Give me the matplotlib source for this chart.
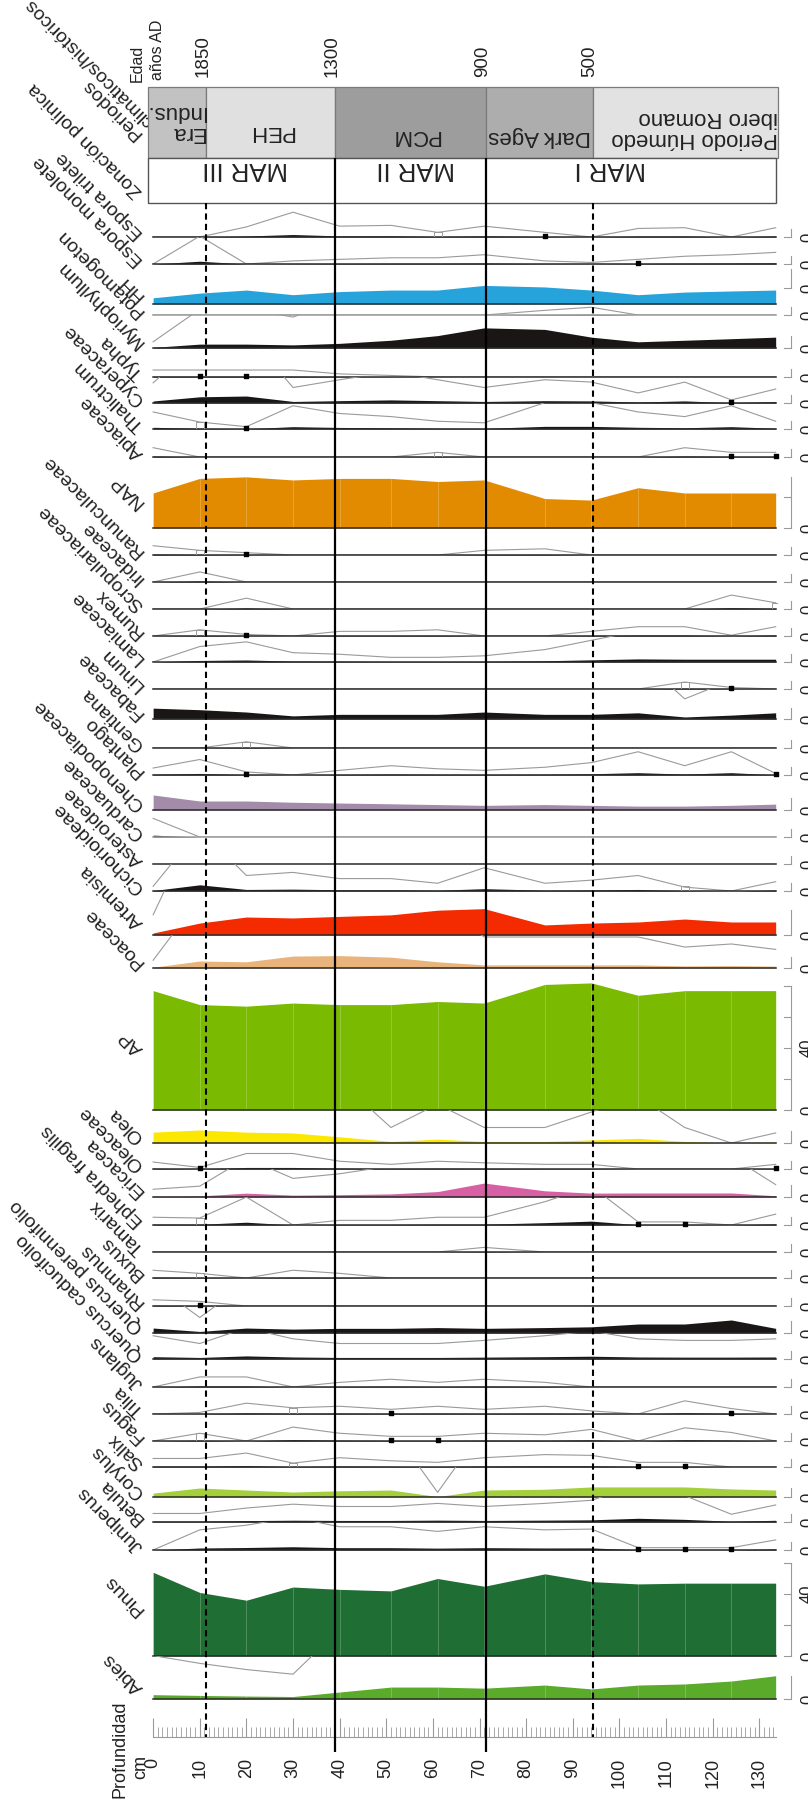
import matplotlib.pyplot as plt
import numpy as np
from matplotlib.patches import Rectangle

plt.rcParams['font.family'] = ['Liberation Sans', 'DejaVu Sans']

W, H = 808, 1801
SCALE = 1.55            # pixels per percent in every curve
X0, X1 = 148, 778       # left / right pixel edge of the strip
XLIM = (-1.1, 134.0)    # depth (cm) shown across the strip
DMAX = 133.5

# sample depths (cm)
depths = [0, 10, 20, 30, 40, 51, 61, 71, 84, 94, 104, 114, 124, 133.5]

# percentages per taxon, one value per sample depth
espora_trilete = [0, 0, 0.65, 1.6, 0.7, 0.75, 0.3, 0.7, 0.3, 0, 0.55, 0.6, 0, 0.6]
espora_monolete = [0, 1.8, 0, 0.2, 0.3, 0.4, 0.4, 0.6, 0.2, 0.1, 0.3, 0.5, 0.6, 0.75]
hh = [4, 7, 9, 6, 8, 9, 9, 12, 11, 9, 6, 7.7, 8.4, 9]
potamogeton = [0, 0, 0, 0, 0, 0, 0, 0, 0.3, 0.5, 0, 0, 0, 0]
myriophyllum = [0.4, 2.5, 2.5, 2, 3, 5, 8, 13, 12, 7, 4, 5, 6, 7]
typha = [0.45, 0.45, 0.45, 0.45, 0.2, 0.1, 0, 0, 0, 0, 0, 0, 0, 0]
cyperaceae = [1.3, 4, 4.5, 1, 1.5, 2, 1.5, 1, 1.5, 1.35, 0.65, 1.35, 0.2, 0.9]
thalictrum = [1.1, 0.45, 0.15, 1.5, 1.0, 0.8, 0.5, 0.4, 1.7, 1.7, 1.1, 0.8, 1.5, 0.5]
apiaceae = [0.6, 0, 0, 0, 0, 0, 0.3, 0, 0, 0, 0, 0.6, 0.3, 0.3]
nap = [22.6, 32, 33, 31, 32, 32, 30, 31, 19, 18, 26, 22.6, 22.6, 22.6]
ranunculaceae = [0.6, 0.3, 0.15, 0, 0, 0, 0, 0.3, 0.4, 0, 0, 0, 0, 0]
iridaceae = [0, 0.65, 0, 0, 0, 0, 0, 0, 0, 0, 0, 0, 0, 0]
scropulariaceae = [0, 0, 0.7, 0, 0, 0, 0, 0, 0, 0, 0, 0, 0.9, 0.4]
rumex = [0, 0.4, 0.1, 0, 0.3, 0.3, 0.4, 0, 0, 0.3, 0.6, 0.6, 0.05, 0.6]
lamiaceae = [0, 1, 1.3, 0.6, 0.5, 0.3, 0.3, 0.4, 0.8, 1.4, 2.0, 1.8, 1.8, 1.8]
linum = [0, 0, 0, 0, 0, 0, 0, 0, 0, 0, 0, 0.45, 0.1, 0]
fabaceae = [7, 6, 4.5, 2, 3, 3, 3, 4.5, 3, 3, 4, 1.3, 2.5, 4]
gentiana = [0, 0, 0.4, 0, 0, 0, 0, 0, 0, 0, 0, 0, 0, 0]
plantago = [0.45, 1, 0.2, 0, 0.3, 0.6, 0.4, 0.3, 0.5, 0.8, 1.5, 0.6, 1.5, 0.1]
chenopodiaceae = [9.7, 5.8, 5.8, 5, 4.5, 4, 3.5, 3, 3.5, 3, 2.5, 2.5, 3, 3.8]
carduaceae = [1.2, 0, 0, 0, 0, 0, 0, 0, 0, 0, 0, 0, 0, 0]
asteroideae = [0, 0, 0, 0, 0, 0, 0, 0, 0, 0, 0, 0, 0, 0]
cichorioideae = [0.3, 4, 1, 1.2, 0.8, 0.8, 0.5, 1.5, 0.5, 0.7, 1.0, 0.25, 0, 0.6]
artemisia = [1.3, 7.7, 11.6, 11, 12, 13, 16, 17, 6.5, 7.7, 8.4, 10.3, 8.4, 8.4]
poaceae = [0.5, 4.5, 4, 7.7, 8, 7, 4, 2, 2, 2, 2, 1.35, 1.55, 1.2]
ap = [77, 68, 67, 69, 68, 68, 70, 69, 81, 82, 74, 77, 77, 77]
olea = [7, 8.4, 7, 6.5, 4, 1, 2.5, 1, 1, 2, 3, 1, 0, 0.65]
oleaceae = [0.45, 0.1, 1, 1, 0.5, 0.3, 0.5, 0.4, 0.3, 0.3, 0, 0, 0, 0.3]
ericacea = [0.5, 0.7, 2.5, 1.2, 1.5, 2, 3.5, 9, 4, 2.5, 2.6, 2.6, 2.6, 0.8]
ephedra = [0.5, 0.45, 1.8, 0, 0.3, 0.3, 0.5, 0.5, 1.5, 2.5, 0.2, 0.2, 0, 0.7]
tamarix = [0, 0, 0, 0, 0, 0, 0, 0.3, 0, 0, 0, 0, 0, 0]
buxus = [0.5, 0.3, 0, 0.5, 0.3, 0, 0, 0, 0, 0, 0, 0, 0, 0]
rhamnus = [0.4, 0.3, 0, 0, 0, 0, 0, 0, 0, 0, 0, 0, 0, 0]
quercus_per = [3.2, 1, 3.2, 2.5, 3, 3, 3.5, 3, 3.5, 4, 5.8, 5.8, 8.4, 3]
quercus_cad = [1.5, 1, 2, 1.3, 1, 1, 1, 1.2, 1.5, 1.8, 1.3, 1.2, 1.2, 1.3]
juglans = [0, 0.65, 0.65, 0, 0.3, 0.5, 0.3, 0.5, 0.3, 0, 0, 0, 0, 0]
tilia = [0, 0.1, 0.7, 0.4, 0.5, 0.3, 0.5, 0.3, 0.5, 0.2, 0, 0.85, 0.35, 0]
fagus = [0, 0.5, 0, 0.9, 0.5, 0.3, 0.3, 0.5, 0.4, 0.75, 0, 0.85, 0.55, 0]
salix = [0.55, 0.55, 0.9, 0.25, 0.6, 0.4, 0.3, 0.6, 0.8, 0.75, 0.3, 0.3, 0, 0]
corylus = [2.5, 5.8, 4.5, 3.2, 4, 4.5, 0.3, 4.5, 5, 6.5, 6.5, 6.5, 5.2, 4.5]
betula = [0.55, 0.55, 0.9, 1.15, 1, 1, 1.2, 1, 1.2, 1.4, 2.4, 1.7, 0.5, 1.1]
juniperus = [0, 1.3, 1.6, 2.1, 1.5, 1.5, 1.2, 1.5, 1.3, 1.35, 0.15, 0.15, 0.15, 0.65]
pinus = [54, 41, 36, 44.5, 43, 42, 50, 45, 53, 48, 46.5, 47, 47, 47]
abies = [2.8, 2.3, 1.9, 1.6, 4.5, 7.7, 7.7, 7, 9, 6.5, 9, 9.7, 11.6, 15]

names = ['Espora trilete', 'Espora monolete', 'HH', 'Potamogeton', 'Myriophyllum',
         'Typha', 'Cyperaceae', 'Thalictrum', 'Apiaceae', 'NAP', 'Ranunculaceae',
         'Iridaceae', 'Scropulariaceae', 'Rumex', 'Lamiaceae', 'Linum', 'Fabaceae',
         'Gentiana', 'Plantago', 'Chenopodiaceae', 'Carduaceae', 'Asteroideae',
         'Cichorioideae', 'Artemisia', 'Poaceae', 'AP', 'Olea', 'Oleaceae', 'Ericacea',
         'Ephedra fragilis', 'Tamarix', 'Buxus', 'Rhamnus', 'Quercus perennifolio',
         'Quercus caducifolio', 'Juglans', 'Tilia', 'Fagus', 'Salix', 'Corylus',
         'Betula', 'Juniperus', 'Pinus', 'Abies']
series = [espora_trilete, espora_monolete, hh, potamogeton, myriophyllum, typha,
          cyperaceae, thalictrum, apiaceae, nap, ranunculaceae, iridaceae,
          scropulariaceae, rumex, lamiaceae, linum, fabaceae, gentiana, plantago,
          chenopodiaceae, carduaceae, asteroideae, cichorioideae, artemisia, poaceae,
          ap, olea, oleaceae, ericacea, ephedra, tamarix, buxus, rhamnus, quercus_per,
          quercus_cad, juglans, tilia, fagus, salix, corylus, betula, juniperus,
          pinus, abies]

# pixel row of each zero line
baselines = [237, 264, 304, 315, 348, 377, 403, 429, 457, 528, 555, 582, 609, 636,
             662, 689, 719, 748, 775, 810, 837, 864, 891, 935, 968, 1110, 1143, 1169,
             1197, 1225, 1252, 1278, 1306, 1333, 1359, 1387, 1414, 1441, 1467, 1497,
             1522, 1550, 1656, 1699]

fill_colors = {'HH': '#27a3dc', 'NAP': '#e38b00', 'Chenopodiaceae': '#a28ca9',
               'Artemisia': '#f42a00', 'Poaceae': '#e8b47c', 'AP': '#7aba00',
               'Olea': '#fbe700', 'Ericacea': '#d660a3', 'Corylus': '#a4d03b',
               'Pinus': '#1f6e33', 'Abies': '#5aab2a'}
scale_max = {'HH': 12, 'Myriophyllum': 8, 'NAP': 33, 'Fabaceae': 7,
             'Chenopodiaceae': 8, 'Artemisia': 16, 'Poaceae': 7, 'AP': 80, 'Olea': 8,
             'Ericacea': 8, 'Quercus perennifolio': 8, 'Corylus': 6, 'Pinus': 60,
             'Abies': 15}
# the HH scale sits a little above its curve
scale_shift = {'HH': 16}
no_exag = ['AP', 'NAP', 'Pinus']

# presence marks (depth of sample)
dots = {'Espora trilete': [84], 'Espora monolete': [104], 'Typha': [10, 20],
        'Thalictrum': [20], 'Apiaceae': [124, 133.5], 'Ranunculaceae': [20],
        'Rumex': [20], 'Linum': [124], 'Plantago': [20, 133.5], 'Cyperaceae': [124],
        'Oleaceae': [10, 133.5], 'Ephedra fragilis': [104, 114], 'Rhamnus': [10],
        'Tilia': [124, 51], 'Salix': [104, 114], 'Juniperus': [104, 114, 124],
        'Fagus': [51, 61]}
squares = {'Espora trilete': [61], 'Thalictrum': [10], 'Ranunculaceae': [10],
           'Rumex': [10], 'Gentiana': [20], 'Linum': [114], 'Cichorioideae': [114],
           'Buxus': [10], 'Fagus': [10], 'Tilia': [30], 'Salix': [30],
           'Scropulariaceae': [133.5], 'Ephedra fragilis': [10], 'Apiaceae': [61]}

# zone / period boundaries (cm) and their ages
d1850, d1300, d900, d500 = 11.4, 39.0, 71.3, 94.3
ages = ['1850', '1300', '900', '500']
periods = ['Era\nIndus.', 'PEH', 'PCM', 'Dark Ages', 'Periodo Húmedo\nibero Romano']
period_edges = [XLIM[0], d1850, d1300, d900, d500, XLIM[1]]
period_colors = ['#c2c2c2', '#e0e0e0', '#9d9d9d', '#adadad', '#e2e2e2']
zones = ['MAR III', 'MAR II', 'MAR I']
zone_edges = [XLIM[0], d1300, d900, DMAX]

GREY = '#9a9a9a'
INK = '#222222'

fig = plt.figure(figsize=(W / 100, H / 100), dpi=100)


def px_axes(x0, top, x1, bottom):
    return fig.add_axes([x0 / W, 1 - bottom / H, (x1 - x0) / W, (bottom - top) / H])


# full-figure pixel axes for free text
pix = px_axes(0, 0, W, H)
pix.set_xlim(0, W)
pix.set_ylim(H, 0)
pix.axis('off')

xr = np.array(depths)
for i, (name, vals, base) in enumerate(zip(names, series, baselines)):
    top = baselines[i - 1] if i else 205
    ax = px_axes(X0, top, X1, base)
    ax.set_xlim(*XLIM)
    ax.set_ylim(0, (base - top) / SCALE)
    ax.axis('off')
    v = np.array(vals, dtype=float)
    col = fill_colors.get(name, '#1a1616')
    if name not in no_exag:
        ax.plot(xr, v * 10, color=GREY, lw=0.8, zorder=2)
    ax.fill_between(xr, 0, v, color=col, lw=0, clip_on=False, zorder=3)
    if name in ('AP', 'NAP', 'Pinus', 'Abies'):
        ax.vlines(xr[1:-1], 0, v[1:-1], color='white', lw=0.6, alpha=0.25, zorder=3)
    base_col = '#9a9a9a' if name in ('Potamogeton', 'Carduaceae') else '#2a2a2a'
    ax.plot([0, DMAX], [0, 0], color=base_col, lw=1.1, clip_on=False, zorder=4)
    for d in squares.get(name, []):
        h = max(v[depths.index(d)] * 10, 4.5 / SCALE)
        ax.bar(d, h, width=1.7, fill=False, edgecolor=GREY, lw=0.7, zorder=4)
    for d in dots.get(name, []):
        ax.scatter([d], [0.9], marker='s', s=5, color='black', zorder=5, clip_on=False)

    # scale bar on the right
    smax = scale_max.get(name, 5)
    s0 = scale_shift.get(name, 0) / SCALE
    ax.plot([136.8, 136.8], [s0, s0 + smax], color=GREY, lw=0.8, clip_on=False)
    for t in range(0, int(smax) + 1, 20):
        ax.plot([135.2, 136.8], [s0 + t, s0 + t], color=GREY, lw=0.8, clip_on=False)
    zero_y = base - scale_shift.get(name, 0)
    pix.text(800, zero_y, '0', rotation=90, ha='left', va='center', fontsize=12,
             color=INK)
    if name in ('AP', 'Pinus'):
        pix.text(800, base - 40 * SCALE, '40', rotation=90, ha='left', va='center',
                 fontsize=12, color=INK)

    # taxon name
    ly = base - smax * SCALE / 2 + 3
    pix.text(141, ly, name, rotation=135, rotation_mode='anchor', ha='left',
             va='center', fontsize=14, color=INK)

# header labels for the two boxes
pix.text(145, 130, 'Periodos\nclimáticos/históricos', rotation=135,
         rotation_mode='anchor', ha='left', va='center', fontsize=14, color=INK,
         linespacing=1.0)
pix.text(140, 194, 'Zonación polínica', rotation=135, rotation_mode='anchor',
         ha='left', va='center', fontsize=14, color=INK)
pix.text(137, 82, 'Edad', rotation=90, ha='center', va='bottom', fontsize=11.5, color=INK)
pix.text(157, 80, 'años AD', rotation=90, ha='center', va='bottom', fontsize=11.5, color=INK)

# depth axis
dax = px_axes(X0, 1712, X1, 1737)
dax.set_xlim(*XLIM)
dax.set_ylim(0, 1)
dax.patch.set_visible(False)
for s in ('top', 'left', 'right'):
    dax.spines[s].set_visible(False)
dax.spines['bottom'].set_bounds(0, DMAX)
dax.spines['bottom'].set_color(GREY)
dax.set_yticks([])
dax.set_xticks(range(0, 131, 10))
dax.set_xticks(range(0, 134), minor=True)
dax.tick_params(axis='x', which='major', direction='in', length=13.5, width=0.8,
                color=GREY, pad=15, labelsize=13, labelcolor=INK, labelrotation=90)
dax.tick_params(axis='x', which='minor', direction='in', length=7, width=0.6, color=GREY)
pix.text(120, 1798, 'Profundidad', rotation=90, ha='center', va='bottom', fontsize=13,
         color=INK)
pix.text(141, 1755, 'cm', rotation=90, ha='center', va='top', fontsize=13, color=INK)

# overlay: period boxes, zone boxes and boundary lines
ov = px_axes(X0, 0, X1, H)
ov.set_xlim(*XLIM)
ov.set_ylim(H, 0)
ov.axis('off')
for j, lab in enumerate(periods):
    a, b = period_edges[j], period_edges[j + 1]
    ov.add_patch(Rectangle((a, 87), b - a, 71, facecolor=period_colors[j],
                           edgecolor='#7a7a7a', lw=0.9, clip_on=False))
ov.text(d1850 - 0.3, 122, periods[0], rotation=180, ha='right', va='center',
        fontsize=16, color=INK, linespacing=1.0, multialignment='left')
ov.text(25.4, 132, periods[1], rotation=180, ha='center', va='center', fontsize=16,
        color=INK)
ov.text(56.2, 136, periods[2], rotation=180, ha='center', va='center', fontsize=16,
        color=INK)
ov.text(82.9, 136, periods[3], rotation=180, ha='center', va='center', fontsize=16,
        color=INK)
ov.text(134.0, 128, periods[4], rotation=180, ha='right', va='center', fontsize=16,
        color=INK, linespacing=1.0, multialignment='left')
ov.add_patch(Rectangle((XLIM[0], 158), DMAX - XLIM[0], 45, facecolor='white',
                       edgecolor='#555555', lw=1.0, clip_on=False))
zone_x = [19.8, 56.2, 98.0]
for zx, lab in zip(zone_x, zones):
    ov.text(zx, 169, lab, rotation=180, ha='center', va='center', fontsize=18.5,
            color=INK)
for d, lab in zip([d1850, d1300, d900, d500], ages):
    ov.text(d - 0.6, 77, lab, rotation=90, ha='center', va='bottom', fontsize=13.5,
            color=INK)
ov.vlines([d1300, d900], 158, 1752, color='black', lw=1.6)
ov.vlines([d1850, d500], 203, 1737, color='black', lw=1.5, linestyles=(0, (3, 2)))

fig.savefig('out.png', dpi=100)
